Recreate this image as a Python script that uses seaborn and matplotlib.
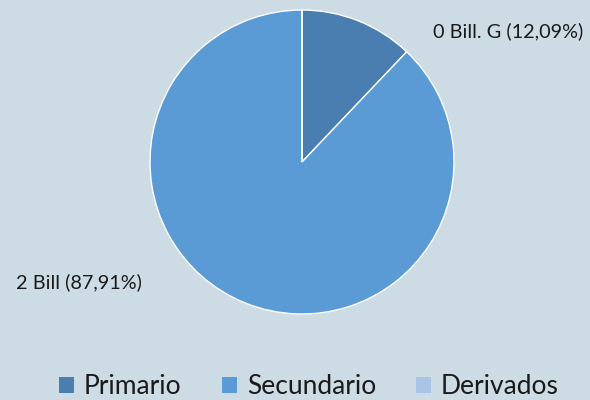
import matplotlib
matplotlib.use("Agg")
import matplotlib.pyplot as plt
import seaborn as sns
from matplotlib.patches import Patch

categories = ["Primario", "Secundario", "Derivados"]
shares = [12.09, 87.91, 0.0]
label_texts = ["0 Bill. G (12,09%)", "2 Bill (87,91%)"]
colors = ["#4a7eb0", "#5b9bd5", "#a9c4e4"]

sns.set_theme(style="white")
plt.rcParams['font.family'] = ['Lato', 'DejaVu Sans']
bg = "#cddbe4"

fig = plt.figure(figsize=(5.9, 4.0), dpi=100, facecolor=bg)
ax = fig.add_axes([150/590, 86/400, 304/590, 304/400])
ax.set_facecolor(bg)
wedges, _ = ax.pie(shares, colors=sns.color_palette(colors), startangle=90,
                   counterclock=False, radius=1,
                   wedgeprops=dict(edgecolor="white", linewidth=1))
ax.set_xlim(-1, 1)
ax.set_ylim(-1, 1)
ax.set_aspect("equal")
ax.axis("off")

lab_fs = 14.3
fig.text(433/590, 1 - 31/400, label_texts[0], fontsize=lab_fs, va="center", ha="left", color="#1a1a1a")
fig.text(16/590, 1 - 282/400, label_texts[1], fontsize=lab_fs, va="center", ha="left", color="#1a1a1a")

leg_fs = 19
fpx = leg_fs * 100 / 72
handles = [Patch(facecolor=c, edgecolor="none") for c in colors]
fig.legend(handles, categories, loc="center", bbox_to_anchor=(309/590, 1 - 387/400),
           ncol=3, frameon=False, fontsize=leg_fs, handlelength=15/fpx, handleheight=15/fpx,
           handletextpad=10/fpx, columnspacing=40/fpx, labelcolor="#1a1a1a",
           borderpad=0, borderaxespad=0)

fig.savefig("out.png", dpi=100, facecolor=bg)
